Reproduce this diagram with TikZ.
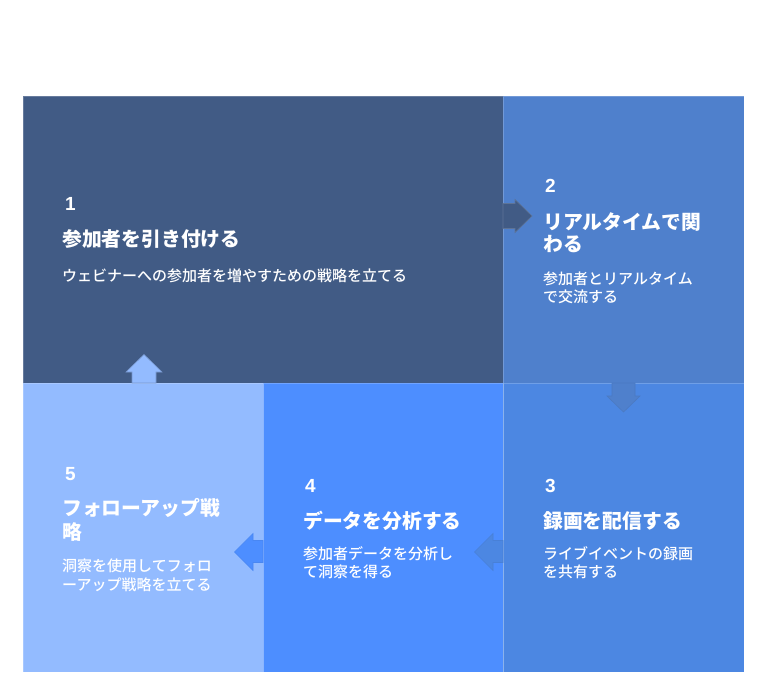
\documentclass[tikz,border=0pt]{standalone}
\usepackage{fontspec}
\newfontfamily\jp{Noto Sans CJK JP}
\newfontfamily\jpm{Noto Sans CJK JP Medium}
\newfontfamily\numfont{Liberation Sans}
\definecolor{cA}{HTML}{415B85}
\definecolor{cB}{HTML}{4F80CC}
\definecolor{cC}{HTML}{4C87E2}
\definecolor{cD}{HTML}{4D8EFF}
\definecolor{cE}{HTML}{93BBFF}
\tikzset{
  box/.style={rectangle, inner sep=0pt, outer sep=0pt, anchor=north west, draw=white, draw opacity=0.2, line width=0.6pt},
  numtxt/.style={anchor=base west, inner sep=0pt, text=white, font=\numfont\bfseries\fontsize{19}{23}\selectfont},
  ttl/.style={anchor=base west, inner sep=0pt, text=white, font=\jp\bfseries\fontsize{19.8}{24}\selectfont},
  dsc/.style={anchor=base west, inner sep=0pt, text=white, font=\jpm\fontsize{15}{19}\selectfont},
  blockarrow/.style={line width=0.6pt, line join=miter}
}
\begin{document}
\begin{tikzpicture}[x=1pt,y=-1pt]
\useasboundingbox (0,0) rectangle (768,690);
% boxes
\node[box, fill=cA, minimum width=480pt, minimum height=287pt] (b1) at (23,96) {};
\node[box, fill=cB, minimum width=241pt, minimum height=287pt] (b2) at (503,96) {};
\node[box, fill=cC, minimum width=241pt, minimum height=289pt] (b3) at (503,383) {};
\node[box, fill=cD, minimum width=240pt, minimum height=289pt] (b4) at (263,383) {};
\node[box, fill=cE, minimum width=240pt, minimum height=289pt] (b5) at (23,383) {};
% arrows
\fill[cA, blockarrow, draw=cA!85!white] (503,203.5) -- (515,203.5) -- (515,199.5) -- (532,216) -- (515,232.5) -- (515,228.5) -- (503,228.5) -- cycle;
\fill[cB, blockarrow, draw=cB!95!black] (612,383) -- (612,396) -- (607,396) -- (623.5,412) -- (640,396) -- (635,396) -- (635,383) -- cycle;
\fill[cC, blockarrow, draw=cC!95!black] (503,540.5) -- (493,540.5) -- (493,533.5) -- (474.5,552) -- (493,570.5) -- (493,562.5) -- (503,562.5) -- cycle;
\fill[cD, blockarrow, draw=cD!95!black] (263,540.5) -- (253,540.5) -- (253,533.5) -- (234.5,552) -- (253,570.5) -- (253,562.5) -- (263,562.5) -- cycle;
\fill[cE, blockarrow, draw=cE!80!black] (132,383) -- (132,372) -- (126,372) -- (144,354.5) -- (162,372) -- (156,372) -- (156,383) -- cycle;
% box 1 text
\node[numtxt] (n1) at (65,210) {1};
\node[ttl] (t1) at (62,246.5) {参加者を引き付ける};
\node[dsc] (d1) at (62,281) {ウェビナーへの参加者を増やすための戦略を立てる};
% box 2 text
\node[numtxt] (n2) at (545,192) {2};
\node[ttl] (t2a) at (543,229) {リアルタイムで関};
\node[ttl] (t2b) at (543,251.5) {わる};
\node[dsc] (d2a) at (543,284) {参加者とリアルタイム};
\node[dsc] (d2b) at (543,302) {で交流する};
% box 3 text
\node[numtxt] (n3) at (545,492) {3};
\node[ttl] (t3) at (543,528) {録画を配信する};
\node[dsc] (d3a) at (543,559) {ライブイベントの録画};
\node[dsc] (d3b) at (543,577.5) {を共有する};
% box 4 text
\node[numtxt] (n4) at (305,492) {4};
\node[ttl] (t4) at (303,528) {データを分析する};
\node[dsc] (d4a) at (303,559.5) {参加者データを分析し};
\node[dsc] (d4b) at (303,577.5) {て洞察を得る};
% box 5 text
\node[numtxt] (n5) at (65,480) {5};
\node[ttl] (t5a) at (62,515) {フォローアップ戦};
\node[ttl] (t5b) at (62,539.5) {略};
\node[dsc] (d5a) at (62,571) {洞察を使用してフォロ};
\node[dsc] (d5b) at (62,590) {ーアップ戦略を立てる};
\end{tikzpicture}
\end{document}
